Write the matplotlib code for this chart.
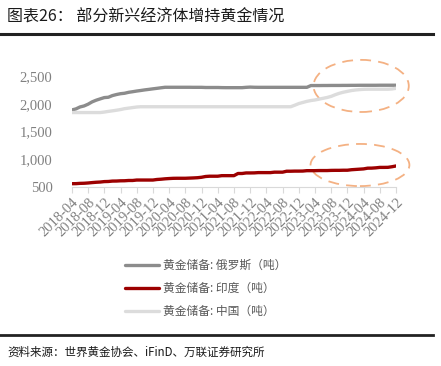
import matplotlib.pyplot as plt
from matplotlib.lines import Line2D
from matplotlib.patches import Ellipse

plt.rcParams["font.family"] = ["Noto Sans CJK SC", "DejaVu Sans"]

# monthly, 2018-04 .. 2024-12
months = [f"{y}-{m:02d}" for y in range(2018, 2025) for m in range(1, 13)][3:]
tick_labels = months[::4]

russia = [1890, 1909, 1944, 1962, 1994, 2036, 2066, 2090, 2113,
          2119, 2149, 2168, 2183, 2191, 2208, 2219, 2231, 2241, 2252, 2261, 2271,
          2280, 2290, 2299, 2299, 2299, 2299, 2299, 2299, 2299, 2298, 2298, 2298,
          2295, 2295, 2295, 2295, 2293, 2292, 2292, 2292, 2292, 2292, 2298, 2302,
          2299, 2298, 2298, 2298, 2298, 2298, 2298, 2298, 2298, 2298, 2298, 2298,
          2298, 2298, 2330, 2330, 2330, 2331, 2331, 2332, 2332, 2332, 2333, 2333,
          2334, 2334, 2335, 2335, 2335, 2335, 2335, 2336, 2336, 2336, 2336, 2336]
india = [560, 561, 566, 568, 573, 580, 586, 590, 598,
         600, 607, 608, 612, 613, 618, 618, 626, 626, 626, 626, 626,
         636, 641, 648, 653, 657, 658, 658, 658, 661, 664, 668, 676,
         690, 695, 695, 695, 705, 705, 705, 705, 744, 744, 754, 754,
         755, 760, 760, 760, 760, 768, 768, 768, 785, 785, 787, 787,
         788, 795, 795, 795, 797, 797, 797, 800, 801, 801, 803, 803,
         812, 817, 822, 827, 840, 841, 846, 854, 854, 855, 866, 880]
china = [1843, 1843, 1843, 1843, 1843, 1843, 1843, 1843, 1852,
         1864, 1874, 1885, 1897, 1913, 1923, 1933, 1943, 1948, 1948, 1948, 1948,
         1948, 1948, 1948, 1948, 1948, 1948, 1948, 1948, 1948, 1948, 1948, 1948,
         1948, 1948, 1948, 1948, 1948, 1948, 1948, 1948, 1948, 1948, 1948, 1948,
         1948, 1948, 1948, 1948, 1948, 1948, 1948, 1948, 1948, 1948, 1975, 2005,
         2025, 2045, 2060, 2070, 2085, 2100, 2115, 2135, 2165, 2190, 2210, 2225,
         2240, 2250, 2257, 2262, 2264, 2264, 2264, 2264, 2264, 2264, 2269, 2280]

series = [
    ("黄金储备: 俄罗斯（吨）", russia, "#8c8c8c"),
    ("黄金储备: 印度（吨）", india, "#9c0000"),
    ("黄金储备: 中国（吨）", china, "#dcdcdc"),
]

fig = plt.figure(figsize=(4.41, 3.66), dpi=100)
ax = fig.add_axes([0.163, 0.489, 0.735, 0.303])

x = list(range(len(months)))
for label, vals, color in series:
    ax.plot(x, vals, color=color, lw=2.4, label=label, solid_capstyle="round")

ax.set_xlim(0, len(months) - 1)
ax.set_ylim(500, 2500)
ax.set_yticks([500, 1000, 1500, 2000, 2500])
ax.set_yticklabels([f"{v:,}" for v in [500, 1000, 1500, 2000, 2500]],
                   family="Liberation Serif", fontsize=10.5, color="#808080")
ax.set_xticks(x[::4])
ax.set_xticklabels(tick_labels, rotation=45, ha="right", rotation_mode="anchor",
                   family="Liberation Serif", fontsize=10.5, color="#808080")
ax.tick_params(axis="y", length=0, pad=14)
ax.tick_params(axis="x", length=4, color="#d9d9d9", pad=2)
for side in ["left", "right", "top"]:
    ax.spines[side].set_visible(False)
ax.spines["bottom"].set_color("#d9d9d9")

# dashed highlight ellipses
for cx, cy, w, h in [(71.4, 2323, 23.5, 940), (71.1, 897, 24.4, 760)]:
    ax.add_patch(Ellipse((cx, cy), w, h, fill=False, ec="#f4b183", lw=1.3,
                         ls=(0, (6, 4)), clip_on=False))

fig.legend(loc="upper left", bbox_to_anchor=(0.259, 0.322), frameon=False,
           fontsize=8.5, handlelength=2.9, handletextpad=0.3, labelspacing=0.85,
           labelcolor="#595959")

fig.text(0.016, 0.953, "图表26： 部分新兴经济体增持黄金情况", fontsize=11.5,
         color="#1a1a1a", va="center")
fig.text(0.016, 0.038, "资料来源：世界黄金协会、iFinD、万联证券研究所", fontsize=8.3,
         color="#1a1a1a", va="center")
fig.add_artist(Line2D([0, 0.982], [0.906, 0.906], color="#222222", lw=2.2))
fig.add_artist(Line2D([0, 0.982], [0.085, 0.085], color="#222222", lw=2.0))

fig.savefig("out.png", dpi=100)
